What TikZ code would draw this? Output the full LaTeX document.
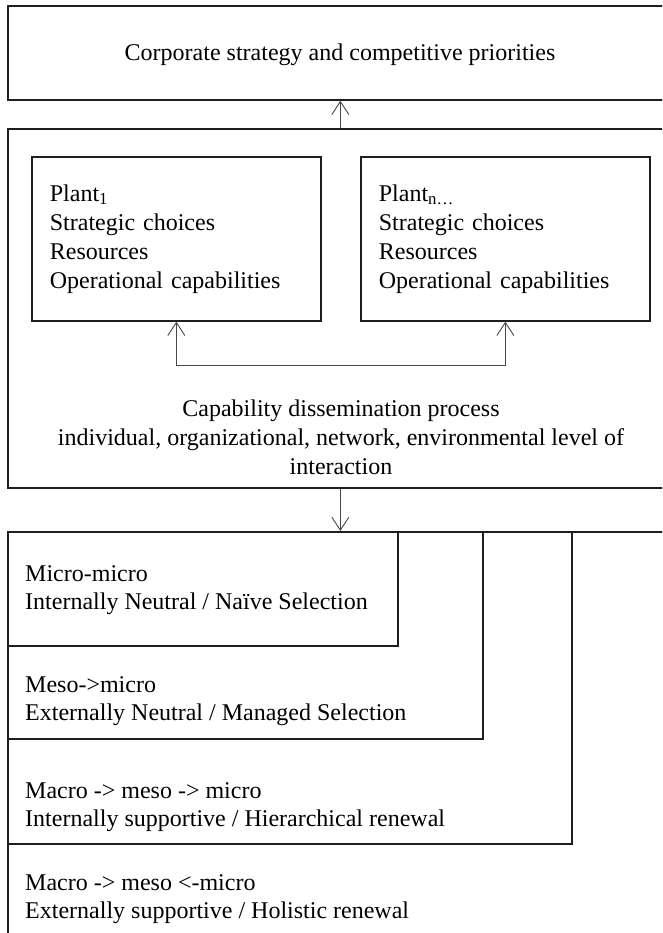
\documentclass[tikz,border=0pt]{standalone}
\usepackage{fontspec}
\setmainfont{Liberation Serif}
\usetikzlibrary{arrows.meta}
\begin{document}
\begin{tikzpicture}[x=1pt,y=-1pt,
  box/.style={draw=black!88,line width=1.7pt,anchor=north west,inner sep=0pt},
  plantbox/.style={box,minimum width=289pt,minimum height=164pt,text width=253pt,inner xsep=18pt,align=left,
     font=\fontsize{24}{29}\selectfont},
  lbl/.style={inner sep=0pt,anchor=west,align=left,font=\fontsize{24}{28}\selectfont},
  arr/.style={draw=black!72,line width=0.9pt,-{Straight Barb[length=13pt,width=17pt,line width=0.9pt]}},
  arrb/.style={draw=black!72,line width=0.9pt,{Straight Barb[length=13pt,width=17pt,line width=0.9pt]}-{Straight Barb[length=13pt,width=17pt,line width=0.9pt]}}
]
\useasboundingbox (0,0) rectangle (662,933);
\clip (0,0) rectangle (662,933);
\fill[white] (0,0) rectangle (662,933);

% top box
\node[box,minimum width=665pt,minimum height=94pt] (top) at (7,5) {};
\node[inner sep=0pt,font=\fontsize{24}{29}\selectfont] (toptext) at (340,55)
  {Corporate strategy and competitive priorities};

% middle box
\node[box,minimum width=665pt,minimum height=359pt] (mid) at (7,128) {};
\node[plantbox] (p1) at (31,156) {Plant\textsubscript{1}\\Strategic choices\\Resources\\Operational capabilities};
\node[plantbox] (pn) at (360,156) {Plant\textsubscript{n\ldots}\\Strategic choices\\Resources\\Operational capabilities};
\node[inner sep=0pt,align=center,font=\fontsize{24}{29}\selectfont] (cdp) at (341,437)
  {Capability dissemination process\\individual, organizational, network, environmental level of\\interaction};

\draw[arrb] (p1.south) -- ++(0,44) -| (pn.south);
\draw[arr] (mid.north) -- (top.south);

% bottom nested boxes
\node[box,minimum width=665pt,minimum height=414pt] (b4) at (7,531) {};
\node[box,minimum width=564pt,minimum height=312pt] (b3) at (7,531) {};
\node[box,minimum width=475pt,minimum height=207pt] (b2) at (7,531) {};
\node[box,minimum width=390pt,minimum height=114pt] (b1) at (7,531) {};

\draw[arr] (mid.south) -- (b4.north);

\node[lbl] (t1) at (25,590) {Micro-micro\\Internally Neutral / Naïve Selection};
\node[lbl] (t2) at (25,701) {Meso->micro\\Externally Neutral / Managed Selection};
\node[lbl] (t3) at (25,807) {Macro -> meso -> micro\\Internally supportive / Hierarchical renewal};
\node[lbl] (t4) at (25,899) {Macro -> meso <-micro\\Externally supportive / Holistic renewal};
\end{tikzpicture}
\end{document}
